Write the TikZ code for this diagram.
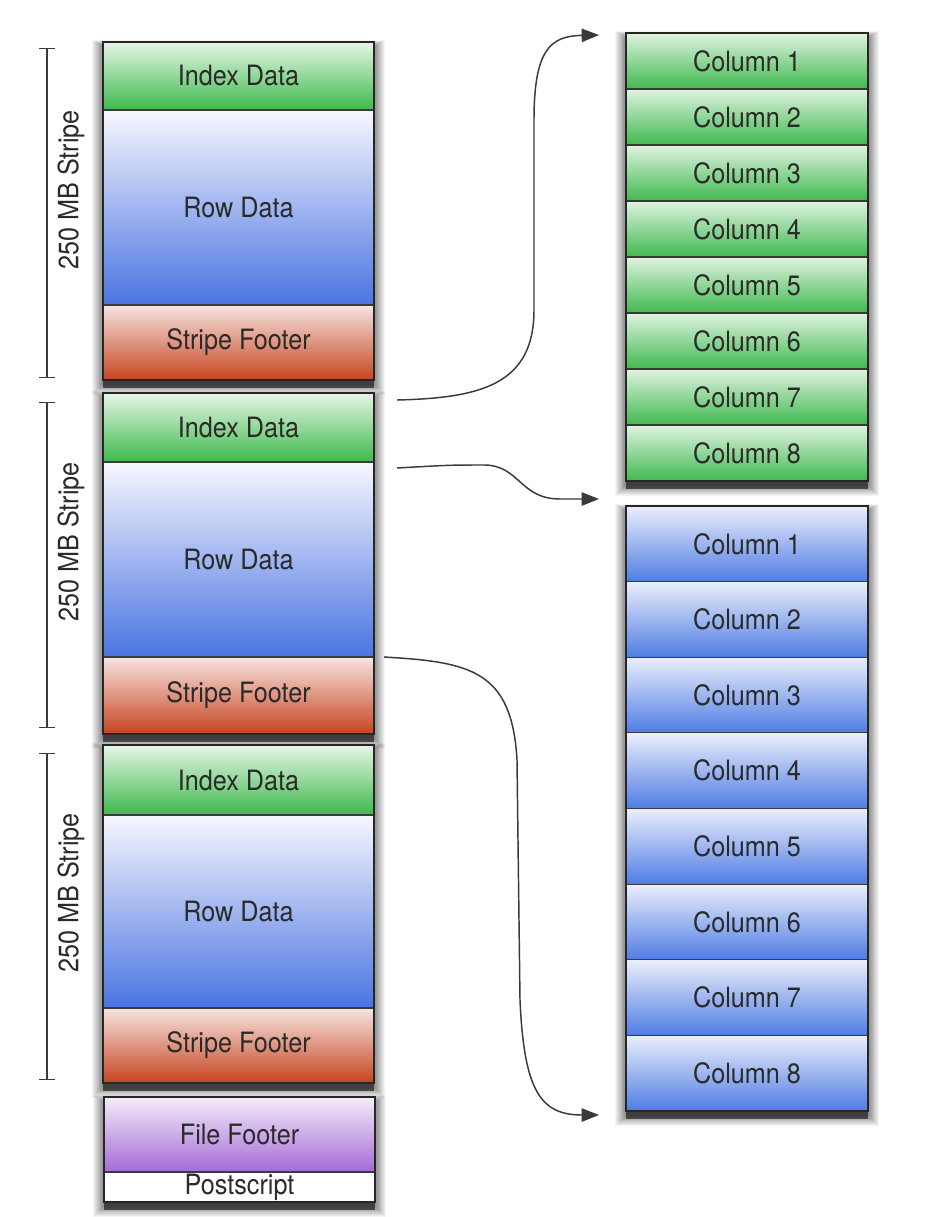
\documentclass[tikz,border=0pt]{standalone}
\usepackage{fontspec}
\setmainfont[FakeStretch=0.9]{TeX Gyre Heros}
\usetikzlibrary{arrows.meta,calc,backgrounds}
\newcommand\pxl[1]{#1*0.75pt}
\definecolor{idxtop}{HTML}{E6F5E6}
\definecolor{idxbot}{HTML}{3DB94B}
\definecolor{rowtop}{HTML}{F7F7FE}
\definecolor{rowbot}{HTML}{4A74E2}
\definecolor{ftrtop}{HTML}{F7E4E0}
\definecolor{ftrbot}{HTML}{C64420}
\definecolor{fftop}{HTML}{F3ECF9}
\definecolor{ffbot}{HTML}{A56AD8}
\definecolor{cgtop}{HTML}{E0F3E0}
\definecolor{cgbot}{HTML}{3FB94E}
\definecolor{cbtop}{HTML}{EBEFFB}
\definecolor{cbbot}{HTML}{4F7CE4}
\definecolor{txt}{HTML}{2A2A2A}
\definecolor{ink}{HTML}{3A3A3A}
\begin{document}
\begin{tikzpicture}[x=0.75pt,y=-0.75pt,
  sect/.style={draw=ink, line width=0.9pt, inner sep=0pt, outer sep=0pt,
    text=txt, font=\fontsize{21}{24}\selectfont},
  lcol/.style={sect, minimum width=\pxl{271}},
  rcol/.style={sect, minimum width=\pxl{242}},
  idxs/.style={top color=idxtop, bottom color=idxbot},
  rows/.style={top color=rowtop, bottom color=rowbot},
  ftrs/.style={top color=ftrtop, bottom color=ftrbot},
  ffs/.style={top color=fftop, bottom color=ffbot},
  gcol/.style={top color=cgtop, bottom color=cgbot},
  bcol/.style={top color=cbtop, bottom color=cbbot},
  outer/.style={draw=black!85, line width=1.4pt},
  conn/.style={draw=ink, line width=1.1pt, -{Triangle[length=13pt,width=10pt]}},
  brk/.style={draw=ink, line width=1.1pt, {Bar[width=12pt]}-{Bar[width=12pt]}},
  lab/.style={rotate=90, inner sep=0pt, text=txt, font=\fontsize{21}{24}\selectfont}]
\useasboundingbox (0,0) rectangle (925,1217);

% left stripes
\node[lcol, idxs, minimum height=\pxl{68}]  (idx1) at (238.5,76)    {Index Data};
\node[lcol, rows, minimum height=\pxl{195}] (row1) at (238.5,207.5) {Row Data};
\node[lcol, ftrs, minimum height=\pxl{75}]  (ftr1) at (238.5,342.5) {Stripe Footer};

\node[lcol, idxs, minimum height=\pxl{69}]  (idx2) at (238.5,427.5) {Index Data};
\node[lcol, rows, minimum height=\pxl{195}] (row2) at (238.5,559.5) {Row Data};
\node[lcol, ftrs, minimum height=\pxl{77}]  (ftr2) at (238.5,695.5) {Stripe Footer};

\node[lcol, idxs, minimum height=\pxl{70}]  (idx3) at (238.5,780)   {Index Data};
\node[lcol, rows, minimum height=\pxl{193}] (row3) at (238.5,911.5) {Row Data};
\node[lcol, ftrs, minimum height=\pxl{75}]  (ftr3) at (238.5,1045.5){Stripe Footer};

\node[lcol, ffs, minimum height=\pxl{75}]   (ff) at (239.5,1134.5) {File Footer};
\node[lcol, fill=white, minimum height=\pxl{30}] (ps) at (239.5,1187) {Postscript};

% right columns
\foreach \i in {1,...,8} {
  \node[rcol, gcol, minimum height=\pxl{56}] (g\i) at (747,{33+56*(\i-0.5)}) {Column \i};
}
\foreach \i in {1,...,8} {
  \node[rcol, bcol, minimum height=\pxl{75.625}] (b\i) at (747,{506+75.625*(\i-0.5)}) {Column \i};
}

% outer frames
\draw[outer] (idx1.north west) rectangle (ftr1.south east);
\draw[outer] (idx2.north west) rectangle (ftr2.south east);
\draw[outer] (idx3.north west) rectangle (ftr3.south east);
\draw[outer] (ff.north west) rectangle (ps.south east);
\draw[outer] (g1.north west) rectangle (g8.south east);
\draw[outer] (b1.north west) rectangle (b8.south east);

% white page and soft shadows
\begin{scope}[on background layer]
\fill[white] (0,0) rectangle (925,1217);
\foreach \a/\b in {idx1/ftr1, idx2/ftr2, idx3/ftr3, ff/ps, g1/g8, b1/b8} {
  \fill[black, opacity=0.55] ($(\a.north west)+(0,3)$) rectangle ($(\b.south east)+(0,8)$);
  \foreach \k in {1,...,12} {
    \fill[black, opacity=0.045] ($(\a.north west)+({-\k*0.9},{-\k*0.5+4})$)
      rectangle ($(\b.south east)+({\k*0.9},{\k*0.9+4})$);
  }
}
\end{scope}

% stripe brackets and labels
\draw[brk] (47,48) -- (47,378);
\draw[brk] (47,402) -- (47,728);
\draw[brk] (47,753) -- (47,1080);
\node[lab] (lab1) at (71,190) {250 MB Stripe};
\node[lab] (lab2) at (71,542) {250 MB Stripe};
\node[lab] (lab3) at (71,893) {250 MB Stripe};

% connectors
\coordinate (s1) at ($(idx2.north east)+(23,7)$);
\coordinate (e1) at ($(g1.north west)+(-27,2)$);
\coordinate (s2) at ($(row2.north east)+(23,6)$);
\coordinate (e2) at ($(b1.north west)+(-27,-7)$);
\coordinate (s3) at ($(row2.south east)+(10,0)$);
\coordinate (e3) at ($(b8.south west)+(-27,4)$);

\draw[conn] (s1) .. controls (480,398) and (534,385) .. (534,310)
  -- (534,120) .. controls (534,50) and (550,36) .. (e1);
\draw[conn] (s2) .. controls (450,465) .. (485,465)
  .. controls (520,466) and (520,499) .. (560,499) -- (e2);
\draw[conn] (s3) .. controls (470,662) and (512,670) .. (517,760)
  -- (520,1000) .. controls (524,1090) and (540,1115) .. (e3);
\end{tikzpicture}
\end{document}
